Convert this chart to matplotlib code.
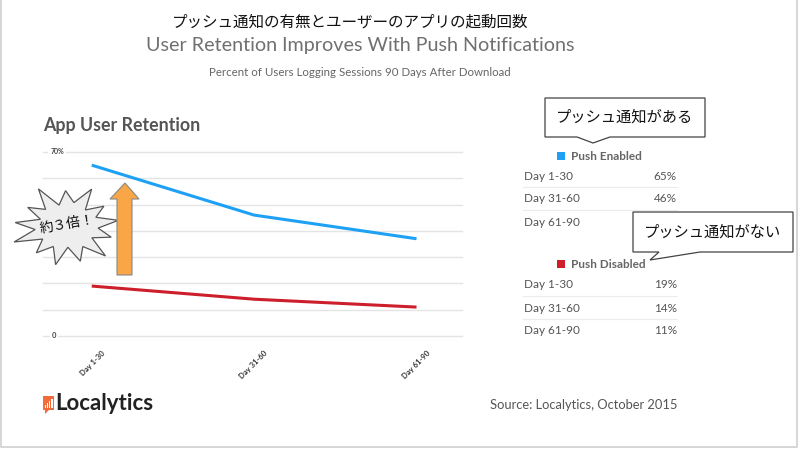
import matplotlib
matplotlib.use("Agg")
import matplotlib.pyplot as plt
import numpy as np
from matplotlib.patches import Polygon, Rectangle

# ---------------- data ----------------
categories = ["Day 1-30", "Day 31-60", "Day 61-90"]
push_enabled = [65, 46, 37]
push_disabled = [19, 14, 11]
enabled_labels = ["65%", "46%", "37%"]
disabled_labels = ["19%", "14%", "11%"]
y_ticks = [0, 10, 20, 30, 40, 50, 60, 70]

BLUE = "#1ea1f5"
RED = "#cc1f2b"
EN = ["Lato", "DejaVu Sans"]
JP = ["Noto Sans CJK JP", "DejaVu Sans"]

W, H = 800, 450
fig = plt.figure(figsize=(8, 4.5), dpi=100)
fig.patch.set_facecolor("white")

def fx(x):
    return x / W

def fy(y):
    return 1 - y / H

# ---------------- main line chart ----------------
left, right, top, bottom = 43, 462, 152, 336
ax = fig.add_axes([fx(left), fy(bottom), (right - left) / W, (bottom - top) / H])
ax.set_facecolor("none")
x = np.arange(len(categories))
ax.set_xlim(-0.30, 2.28)
ax.set_ylim(0, 70)
for t in y_ticks:
    ax.axhline(t, color="#e4e4e4", lw=1.0, zorder=1, clip_on=False)
ax.plot(x, push_enabled, color=BLUE, lw=2.2, zorder=3, solid_capstyle="butt", clip_on=False)
ax.plot(x, push_disabled, color=RED, lw=2.2, zorder=3, solid_capstyle="butt", clip_on=False)
for s in ax.spines.values():
    s.set_visible(False)
ax.set_xticks([])
ax.set_yticks([])
# y labels (only top and bottom)
ax.text(-0.255, 70, "70%", fontsize=5, fontweight="bold", color="#444", family=EN,
        ha="left", va="center", zorder=4,
        bbox=dict(facecolor="white", edgecolor="none", pad=1.5))
ax.text(-0.245, 0, "0", fontsize=5.5, fontweight="bold", color="#444", family=EN,
        ha="left", va="center", zorder=4,
        bbox=dict(facecolor="white", edgecolor="none", pad=1.5))
for i, c in enumerate(categories):
    ax.annotate(c, xy=(i, 0), xytext=(7, -10), textcoords="offset points",
                rotation=45, ha="right", va="top", rotation_mode="anchor",
                fontsize=5.5, fontweight="bold", color="#333", family=EN,
                annotation_clip=False)

# ---------------- overlay for text / decorations ----------------
ov = fig.add_axes([0, 0, 1, 1], zorder=10)
ov.set_xlim(0, W)
ov.set_ylim(H, 0)
ov.axis("off")
ov.patch.set_alpha(0)

# border
ov.plot([1, 1, 797, 797], [0, 447, 447, 0], color="#d0d0d0", lw=1.2)

# titles
ov.text(350, 22, "プッシュ通知の有無とユーザーのアプリの起動回数", family=JP,
        fontsize=11.2, color="#111", ha="center", va="center")
ov.text(360, 45, "User Retention Improves With Push Notifications", family=EN,
        fontsize=14.2, fontweight="normal", color="#707070", ha="center", va="center")
ov.text(360, 72, "Percent of Users Logging Sessions 90 Days After Download", family=EN,
        fontsize=8.3, color="#666", ha="center", va="center")
ov.text(43, 125, "App User Retention", family=EN, fontsize=12.8, fontweight="bold",
        color="#555", ha="left", va="center")

# starburst
cx, cy = 67, 226
angles = np.linspace(0, 2 * np.pi, 27)[:-1] + 0.15
outer_r = [1.0, 0.88, 1.08, 0.93, 1.12, 0.9, 1.0, 1.1, 0.92, 1.04, 0.96, 1.08, 0.9]
inner_r = [0.6, 0.55, 0.63, 0.57, 0.6, 0.54, 0.62, 0.58, 0.6, 0.56, 0.62, 0.57, 0.6]
pts = []
for k, a in enumerate(angles):
    if k % 2 == 0:
        r = outer_r[(k // 2) % len(outer_r)]
    else:
        r = inner_r[(k // 2) % len(inner_r)]
    pts.append((cx + 52 * r * np.cos(a), cy - 38 * r * np.sin(a)))
ov.add_patch(Polygon(pts, closed=True, facecolor="#eeeeee", edgecolor="#555", lw=0.9))
ov.text(cx, cy - 2, "約３倍！", family=JP, fontsize=10, color="#111",
        ha="center", va="center", rotation=10)

# orange arrow
arrow = [(117, 275), (132, 275), (132, 199), (139, 199), (125, 183), (110, 199), (117, 199)]
ov.add_patch(Polygon(arrow, closed=True, facecolor="#f8a647", edgecolor="#888", lw=0.8))

# callout boxes
def callout(x0, y0, x1, y1, tail, text):
    (ta, tb, tip) = tail
    poly = [(x0, y0), (x1, y0), (x1, y1), (tb, y1), tip, (ta, y1), (x0, y1)]
    ov.add_patch(Polygon(poly, closed=True, facecolor="white", edgecolor="#444", lw=0.9,
                         zorder=5))
    ov.text((x0 + x1) / 2, (y0 + y1) / 2, text, family=JP, fontsize=11, color="#111",
            ha="center", va="center", zorder=6)

# right table
def block(y_legend, color, name, labels, row_ys, sep_ys, hidden=()):
    ov.add_patch(Rectangle((557, y_legend - 4), 7.5, 7.5, facecolor=color, edgecolor="none"))
    ov.text(571, y_legend, name, family=EN, fontsize=8.5, fontweight="bold",
            color="#666", ha="left", va="center")
    for k, (c, lab, yy) in enumerate(zip(categories, labels, row_ys)):
        ov.text(524, yy, c, family=EN, fontsize=8.5, color="#555", ha="left", va="center")
        if k not in hidden:  # value hidden behind the callout in the reference
            ov.text(677, yy, lab, family=EN, fontsize=8.5, color="#555", ha="right", va="center")
    for yy in sep_ys:
        ov.plot([523, 677], [yy, yy], color="#ececec", lw=0.8)

block(156, BLUE, "Push Enabled", enabled_labels, [176, 199, 223], [187, 210], hidden=(2,))
block(264, RED, "Push Disabled", disabled_labels, [284, 308, 331], [296, 319])

callout(545, 98, 705, 137, (577, 610, (593, 143)), "プッシュ通知がある")
callout(633, 212, 793, 252, (659, 700, (650, 260)), "プッシュ通知がない")

# logo
ov.add_patch(Rectangle((43, 396), 11, 14, facecolor="#f26b3a", edgecolor="none"))
ov.add_patch(Polygon([(45, 410), (49, 410), (45, 414)], closed=True, facecolor="#f26b3a", edgecolor="none"))
for i, hh in enumerate([3, 5, 7, 9]):
    ov.add_patch(Rectangle((44.5 + i * 2.3, 408 - hh), 1.3, hh, facecolor="white", edgecolor="none"))
ov.text(55, 403, "Localytics", family=EN, fontsize=16, fontweight="bold",
        color="#222", ha="left", va="center")
ov.text(677, 405, "Source: Localytics, October 2015", family=EN, fontsize=9.3,
        color="#555", ha="right", va="center")

fig.savefig("out.png", dpi=100, facecolor="white")
